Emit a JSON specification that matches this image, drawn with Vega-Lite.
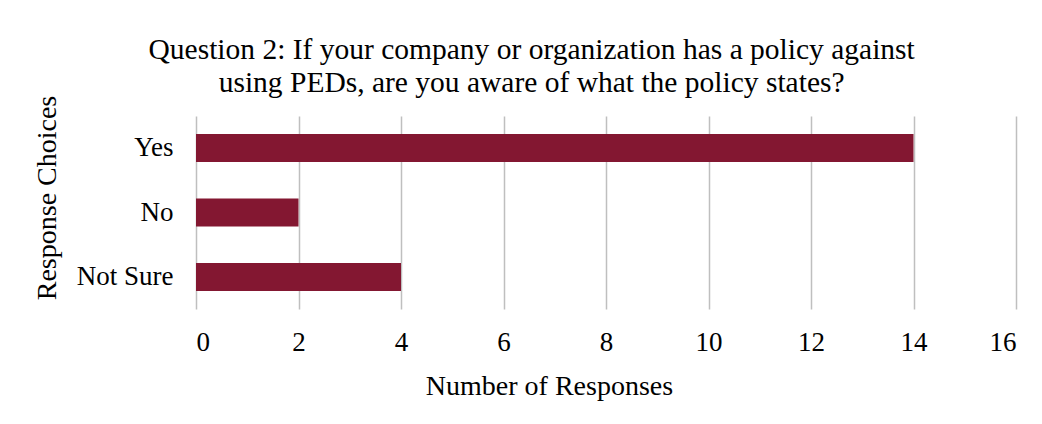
{
  "$schema": "https://vega.github.io/schema/vega-lite/v6.json",
  "width": 820,
  "height": 193,
  "autosize": "none",
  "padding": {"left": 196, "top": 116, "right": 26, "bottom": 115},
  "background": "white",
  "title": {
    "text": ["Question 2: If your company or organization has a policy against", "using PEDs, are you aware of what the policy states?"],
    "font": "Liberation Serif",
    "fontSize": 29.5,
    "fontWeight": "normal",
    "color": "#000000",
    "lineHeight": 33,
    "anchor": "middle",
    "frame": "bounds",
    "offset": -3.5,
    "dx": 7
  },
  "data": {
    "values": [
      {"choice": "Yes", "count": 14},
      {"choice": "No", "count": 2},
      {"choice": "Not Sure", "count": 4}
    ]
  },
  "mark": {"type": "bar", "color": "#831731"},
  "encoding": {
    "y": {
      "field": "choice",
      "type": "nominal",
      "sort": ["Yes", "No", "Not Sure"],
      "scale": {"paddingInner": 0.565, "paddingOuter": 0.28},
      "axis": {
        "title": "Response Choices",
        "titleFont": "Liberation Serif",
        "titleFontSize": 28,
        "titleFontWeight": "normal",
        "titleColor": "#000000",
        "titlePadding": 15,
        "titleY": 81.5,
        "labelFont": "Liberation Serif",
        "labelFontSize": 27,
        "labelColor": "#000000",
        "labelPadding": 23,
        "ticks": false,
        "domain": false
      }
    },
    "x": {
      "field": "count",
      "type": "quantitative",
      "scale": {"domain": [0, 16], "nice": false},
      "axis": {
        "values": [0, 2, 4, 6, 8, 10, 12, 14, 16],
        "title": "Number of Responses",
        "titleFont": "Liberation Serif",
        "titleFontSize": 28,
        "titleFontWeight": "normal",
        "titleColor": "#000000",
        "titlePadding": 17,
        "titleX": 353,
        "labelFont": "Liberation Serif",
        "labelFontSize": 27,
        "labelColor": "#000000",
        "labelPadding": 20,
        "ticks": false,
        "domain": false,
        "grid": true,
        "gridColor": "#bfbfbf",
        "gridWidth": 1.5
      }
    }
  },
  "config": {"view": {"stroke": null}}
}
